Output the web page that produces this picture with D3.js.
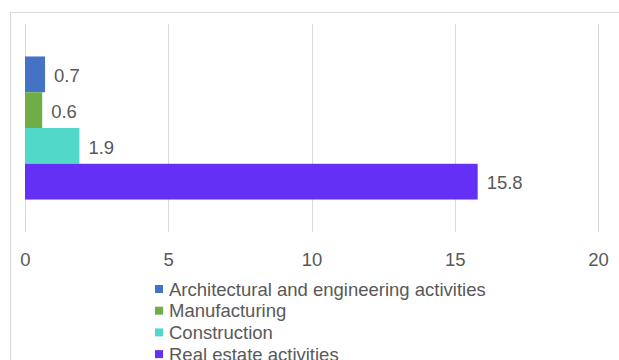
<!DOCTYPE html>
<html>
<head>
<meta charset="utf-8">
<script src="https://cdn.jsdelivr.net/npm/d3@7"></script>
<style>
  body { margin: 0; background: #fff; }
  text { font-family: "Liberation Sans", Arial, sans-serif; fill: #595959; }
</style>
</head>
<body>
<div id="chart"></div>
<script>
let svgWidth = 619;
let svgHeight = 360;

// data
let groups = ["All"];
let series = ["Architectural and engineering activities", "Manufacturing", "Construction", "Real estate activities"];
let values = [0.7, 0.6, 1.9, 15.8];
let colors = ["#4472C4", "#70AD47", "#52D8C8", "#6530F6"];
let ticks = [0, 5, 10, 15, 20];

let plot = { left: 25, right: 598, top: 24, bottom: 232 };
let fontSize = 18.5;

let svg = d3.select("#chart")
  .append("svg")
  .attr("width", svgWidth)
  .attr("height", svgHeight);

// chart area border
svg.append("rect")
  .attr("x", 10.5)
  .attr("y", 12.5)
  .attr("width", 700)
  .attr("height", 400)
  .attr("fill", "none")
  .attr("stroke", "#d9d9d9");

let x = d3.scaleLinear()
  .domain([0, 20])
  .range([plot.left, plot.right]);

let yGroup = d3.scaleBand()
  .domain(groups)
  .range([plot.top, plot.bottom])
  .padding(0.185);

let ySeries = d3.scaleBand()
  .domain(series)
  .range([0, yGroup.bandwidth()]);

// gridlines
svg.append("g")
  .selectAll("line")
  .data(ticks)
  .enter()
  .append("line")
  .attr("x1", d => Math.round(x(d)) + 0.5)
  .attr("x2", d => Math.round(x(d)) + 0.5)
  .attr("y1", plot.top)
  .attr("y2", plot.bottom)
  .attr("stroke", "#d9d9d9")
  .attr("stroke-width", 1);

// axis labels
let xAxis = d3.axisBottom(x).tickValues(ticks).tickSize(0).tickPadding(0);
let axisG = svg.append("g")
  .attr("transform", `translate(0, ${plot.bottom + 21})`)
  .call(xAxis);
axisG.select(".domain").remove();
axisG.selectAll("text")
  .attr("fill", "#595959")
  .style("font-size", fontSize + "px")
  .style("font-family", '"Liberation Sans", Arial, sans-serif');

let data = series.map((s, i) => ({ name: s, value: values[i], color: colors[i] }));

let barG = svg.append("g")
  .attr("transform", `translate(0, ${yGroup(groups[0])})`);

barG.selectAll("rect")
  .data(data)
  .enter()
  .append("rect")
  .attr("x", x(0))
  .attr("y", d => ySeries(d.name))
  .attr("width", d => x(d.value) - x(0))
  .attr("height", ySeries.bandwidth())
  .attr("fill", d => d.color);

barG.selectAll("text")
  .data(data)
  .enter()
  .append("text")
  .attr("x", d => x(d.value) + 9)
  .attr("y", d => ySeries(d.name) + ySeries.bandwidth() / 2 + 1)
  .attr("dy", "0.36em")
  .attr("font-size", fontSize)
  .text(d => d.value);

// legend
let legend = svg.append("g")
  .attr("transform", "translate(155, 285)");

let rowH = 21.7;

legend.selectAll("rect")
  .data(data)
  .enter()
  .append("rect")
  .attr("x", 0)
  .attr("y", (d, i) => i * rowH)
  .attr("width", 8)
  .attr("height", 8)
  .attr("fill", d => d.color);

legend.selectAll("text")
  .data(data)
  .enter()
  .append("text")
  .attr("x", 14)
  .attr("y", (d, i) => i * rowH + 4)
  .attr("dy", "0.36em")
  .attr("font-size", fontSize)
  .text(d => d.name);
</script>
</body>
</html>
